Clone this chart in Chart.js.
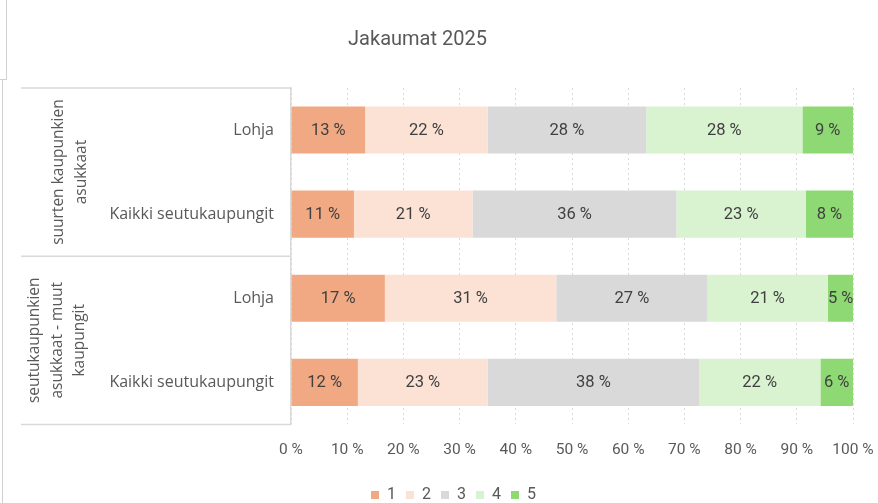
<!DOCTYPE html>
<html>
<head>
<meta charset="utf-8">
<script src="https://cdn.jsdelivr.net/npm/chart.js@4.4.1/dist/chart.umd.min.js"></script>
<style>
  html, body { margin: 0; padding: 0; background: #fff; }
  #wrap { width: 878px; height: 503px; position: relative; }
</style>
</head>
<body>
<div id="wrap"><canvas id="jakaumat"></canvas></div>
<script>
// ===================== DATA =====================
const categories = ['Lohja', 'Kaikki seutukaupungit', 'Lohja', 'Kaikki seutukaupungit'];
const groups = [
  { lines: ['suurten kaupunkien', 'asukkaat'], from: 0, to: 1 },
  { lines: ['seutukaupunkien', 'asukkaat - muut', 'kaupungit'], from: 2, to: 3 }
];
const seriesNames = ['1', '2', '3', '4', '5'];
const share1 = [13.2, 11.2, 16.7, 11.9];
const share2 = [21.8, 21.1, 30.5, 23.1];
const share3 = [28.2, 36.3, 26.9, 37.6];
const share4 = [27.8, 23.0, 21.4, 21.6];
const share5 = [9.0, 8.4, 4.6, 5.8];
const xTicks = [0, 10, 20, 30, 40, 50, 60, 70, 80, 90, 100];

const colors = ['#F1A983', '#FBE2D5', '#D9D9D9', '#D9F2D0', '#8ED973'];
const narrow = "'Liberation Sans Narrow', Roboto, sans-serif";
const normal = "'Open Sans', 'Liberation Sans', sans-serif";
const grey = '#595959';

// ===================== PLUGINS =====================
// segment labels in the middle of each bar piece
const segmentLabels = {
  id: 'segmentLabels',
  afterDatasetsDraw(chart) {
    const ctx = chart.ctx;
    ctx.save();
    ctx.font = "16.5px " + narrow;
    ctx.fillStyle = '#404040';
    ctx.textAlign = 'center';
    ctx.textBaseline = 'middle';
    chart.data.datasets.forEach((ds, i) => {
      const meta = chart.getDatasetMeta(i);
      meta.data.forEach((bar, j) => {
        const cx = (bar.x + bar.base) / 2;
        ctx.fillText(Math.round(ds.data[j]) + ' %', cx, bar.y + 1);
      });
    });
    ctx.restore();
  }
};

// group boxes + rotated group names on the left
const groupAxis = {
  id: 'groupAxis',
  afterLayout(chart) {
    // title sits left of centre, legend a bit right of it in the original
    chart.titleBlock.left -= 20;
    chart.titleBlock.right -= 20;
    chart.legend.left += 16;
    chart.legend.right += 16;
  },
  afterDraw(chart) {
    const ctx = chart.ctx;
    const y = chart.scales.y;
    const left = 21;
    const right = chart.chartArea.left;
    const half = (y.getPixelForValue(1) - y.getPixelForValue(0)) / 2;
    ctx.save();
    ctx.strokeStyle = '#D9D9D9';
    ctx.lineWidth = 1.5;
    const edges = [y.getPixelForValue(0) - half];
    groups.forEach(g => edges.push(y.getPixelForValue(g.to) + half));
    edges.forEach(e => {
      ctx.beginPath();
      ctx.moveTo(left, e);
      ctx.lineTo(right, e);
      ctx.stroke();
    });

    ctx.fillStyle = grey;
    ctx.font = "15.5px " + normal;
    ctx.textAlign = 'center';
    ctx.textBaseline = 'middle';
    const colX = [[59, 82], [35, 57.5, 80]];
    groups.forEach((g, gi) => {
      const cy = (y.getPixelForValue(g.from) + y.getPixelForValue(g.to)) / 2;
      g.lines.forEach((txt, li) => {
        ctx.save();
        ctx.translate(colX[gi][li], cy);
        ctx.rotate(-Math.PI / 2);
        ctx.fillText(txt, 0, 0);
        ctx.restore();
      });
    });

    // faint frame edges seen at the far left
    ctx.strokeStyle = '#D0D0D0';
    ctx.lineWidth = 1;
    ctx.beginPath();
    ctx.moveTo(6.5, 0); ctx.lineTo(6.5, 79.5); ctx.lineTo(0, 79.5);
    ctx.moveTo(2.5, 80); ctx.lineTo(2.5, 503);
    ctx.stroke();
    ctx.restore();
  }
};

// ===================== CHART =====================
const ctx = document.getElementById('jakaumat').getContext('2d');
const shares = [share1, share2, share3, share4, share5];

const jakaumatChart = new Chart(ctx, {
  type: 'bar',
  data: {
    labels: categories,
    datasets: seriesNames.map((name, i) => ({
      label: name,
      data: shares[i],
      backgroundColor: colors[i],
      borderWidth: 0,
      barPercentage: 0.56,
      categoryPercentage: 1
    }))
  },
  options: {
    indexAxis: 'y',
    responsive: true,
    maintainAspectRatio: false,
    animation: false,
    layout: { padding: { left: 0, right: 3, top: 0, bottom: -10 } },
    plugins: {
      title: {
        display: true,
        text: 'Jakaumat 2025',
        color: grey,
        font: { family: narrow, size: 20, weight: 'normal' },
        padding: { top: 28, bottom: 36 }
      },
      legend: {
        position: 'bottom',
        labels: {
          color: grey,
          font: { family: narrow, size: 16 },
          boxWidth: 8,
          boxHeight: 8,
          padding: 10
        }
      },
      tooltip: { enabled: false }
    },
    scales: {
      x: {
        stacked: true,
        min: 0,
        max: 100,
        afterBuildTicks: (axis) => { axis.ticks = xTicks.map(v => ({ value: v })); },
        ticks: {
          color: grey,
          font: { family: narrow, size: 15.5 },
          padding: 16,
          callback: (v) => v + ' %'
        },
        grid: { color: '#D9D9D9', lineWidth: 1, drawTicks: false },
        border: { display: false, dash: [2, 3] },
        afterFit: (axis) => {
          axis.height += 2;
          axis.paddingLeft = 0;
          axis.paddingRight = 25;
        }
      },
      y: {
        stacked: true,
        ticks: {
          color: grey,
          font: { family: normal, size: 16 },
          padding: 17
        },
        grid: { display: false, drawTicks: false },
        border: { display: true, color: '#D9D9D9', width: 1.5 },
        afterFit: (axis) => { axis.width = 291; }
      }
    }
  },
  plugins: [segmentLabels, groupAxis]
});
</script>
</body>
</html>
